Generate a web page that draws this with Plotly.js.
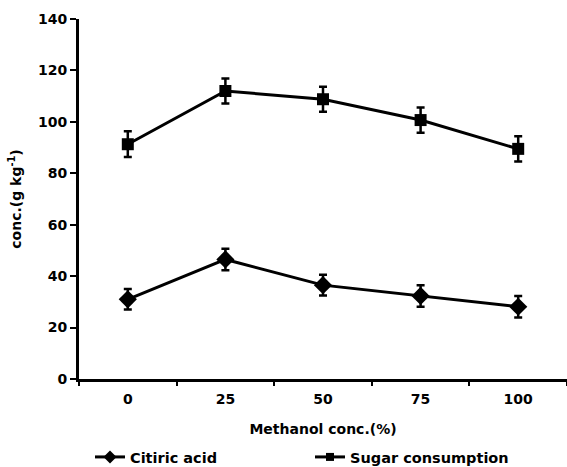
<!DOCTYPE html>
<html><head><meta charset="utf-8">
<script src="https://cdn.plot.ly/plotly-3.0.1.min.js"></script>
<style>html,body{margin:0;padding:0;background:#fff}#c{width:567px;height:467px}</style>
</head><body><div id="c"></div>
<script>
const categories = ['0','25','50','75','100'];
const citricAcid = [31, 46.5, 36.5, 32.3, 28.1];
const citricErr = [4, 4.2, 4, 4.2, 4.2];
const sugarConsumption = [91.3, 112, 108.8, 100.7, 89.5];
const sugarErr = [5, 4.9, 4.9, 4.9, 4.9];
const yTicks = [0,20,40,60,80,100,120,140];
const seriesNames = ['Citiric acid', 'Sugar consumption'];

const F = 'DejaVu Sans, Verdana, sans-serif';
const traces = [
  {x: categories, y: citricAcid, name: seriesNames[0], type: 'scatter', mode: 'lines+markers', showlegend: false,
   line: {color: '#000', width: 3}, marker: {symbol: 'diamond', size: 14, color: '#000'},
   error_y: {type: 'data', array: citricErr, visible: true, color: '#000', thickness: 2.5, width: 4}},
  {x: categories, y: sugarConsumption, name: seriesNames[1], type: 'scatter', mode: 'lines+markers', showlegend: false,
   line: {color: '#000', width: 3}, marker: {symbol: 'square', size: 12, color: '#000'},
   error_y: {type: 'data', array: sugarErr, visible: true, color: '#000', thickness: 2.5, width: 4}},
  // legend entries (smaller symbols like the reference legend)
  {x: [null], y: [null], name: seriesNames[0], type: 'scatter', mode: 'lines+markers', showlegend: true, legend: 'legend',
   line: {color: '#000', width: 3}, marker: {symbol: 'diamond', size: 10, color: '#000'}},
  {x: [null], y: [null], name: seriesNames[1], type: 'scatter', mode: 'lines+markers', showlegend: true, legend: 'legend2',
   line: {color: '#000', width: 3}, marker: {symbol: 'square', size: 8, color: '#000'}}
];
const legFont = {family: F, size: 14.5, color: '#000', weight: 'bold'};
const layout = {
  width: 567, height: 467,
  margin: {l: 79, r: 0, t: 19, b: 88},
  paper_bgcolor: '#fff', plot_bgcolor: '#fff',
  font: {family: F, color: '#000', size: 14},
  showlegend: true,
  legend: {orientation: 'h', x: 90/567, xref: 'container', xanchor: 'left', yref: 'container', y: 10/467, yanchor: 'middle',
           font: legFont, itemwidth: 30, bgcolor: 'rgba(0,0,0,0)'},
  legend2: {orientation: 'h', x: 310/567, xref: 'container', xanchor: 'left', yref: 'container', y: 10/467, yanchor: 'middle',
           font: legFont, itemwidth: 30, bgcolor: 'rgba(0,0,0,0)'},
  xaxis: {type: 'category', range: [-0.5, 4.5], showline: true, linewidth: 3, linecolor: '#000',
          ticks: 'outside', tickson: 'boundaries', ticklen: 4, tickwidth: 2, tickcolor: '#000',
          showgrid: false, zeroline: false, automargin: false, ticklabelstandoff: 5,
          tickfont: {family: F, size: 14, weight: 'bold'},
          title: {text: 'Methanol conc.(%)', font: {family: F, size: 14, weight: 'bold'}, standoff: 19}},
  yaxis: {range: [0, 140], tickvals: yTicks, showline: true, linewidth: 3, linecolor: '#000',
          ticks: 'outside', ticklen: 6, tickwidth: 2, tickcolor: '#000',
          showgrid: false, zeroline: false, automargin: false,
          tickfont: {family: F, size: 14, weight: 'bold'},
          title: {text: 'conc.(g kg<sup>-1</sup>)', font: {family: F, size: 14, weight: 'bold'}, standoff: 14}}
};
Plotly.newPlot('c', traces, layout, {staticPlot: true, displayModeBar: false});
</script></body></html>
